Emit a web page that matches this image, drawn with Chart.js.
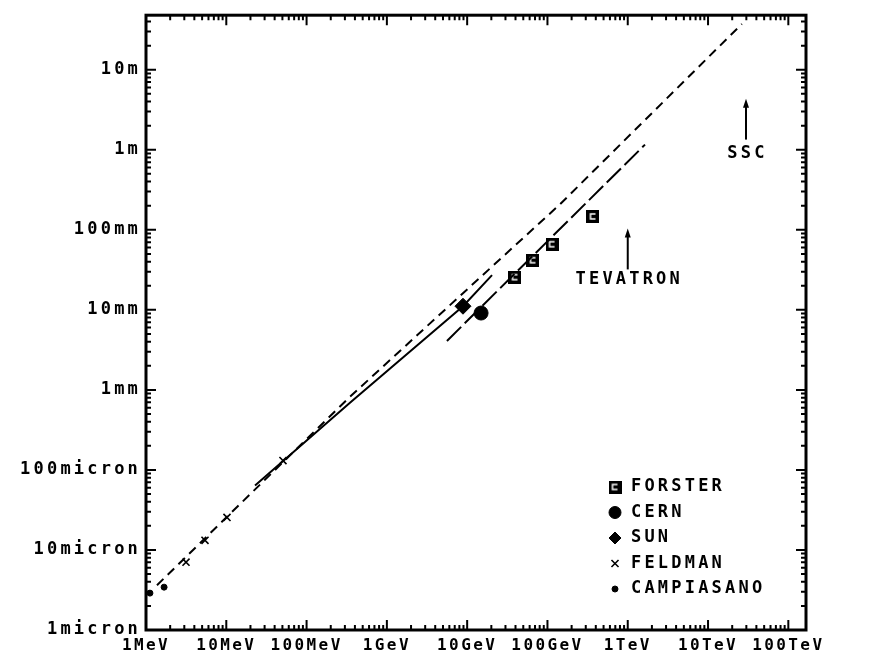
<!DOCTYPE html>
<html>
<head>
<meta charset="utf-8">
<script src="https://cdn.jsdelivr.net/npm/chart.js@4.4.0/dist/chart.umd.min.js"></script>
<style>
  html, body { margin: 0; padding: 0; background: #fff; }
  canvas { display: block; }
</style>
</head>
<body>
<canvas id="grafico" width="873" height="658"></canvas>
<script>
// ejes: energia en GeV, longitud en metros
const energiaTicks = [1e-3, 1e-2, 1e-1, 1, 10, 100, 1e3, 1e4, 1e5];
const energiaLabels = ['1MeV', '10MeV', '100MeV', '1GeV', '10GeV', '100GeV', '1TeV', '10TeV', '100TeV'];
const longitudTicks = [1e-6, 1e-5, 1e-4, 1e-3, 1e-2, 1e-1, 1, 10];
const longitudLabels = ['1micron', '10micron', '100micron', '1mm', '10mm', '100mm', '1m', '10m'];

// curvas
const cortaE = [0.00137, 0.347, 143, 26400];
const cortaL = [3.63e-6, 8.2e-4, 0.208, 37.3];
const solidaE = [0.0228, 0.347, 8.87, 20.4];
const solidaL = [6.4e-5, 6.9e-4, 0.0111, 0.0271];
const largaE = [5.6, 1640];
const largaL = [0.00409, 1.16];

// medidas
const forsterE = [39.4, 66, 114, 369];
const forsterL = [0.0256, 0.0417, 0.066, 0.147];
const cernE = [14.9];
const cernL = [0.00912];
const sunE = [8.87];
const sunL = [0.0111];
const feldmanE = [0.00315, 0.00543, 0.0102, 0.0508];
const feldmanL = [7.03e-6, 1.32e-5, 2.55e-5, 1.31e-4];
const campiE = [0.00112, 0.00168];
const campiL = [2.89e-6, 3.43e-6];

// flechas: energia, desde, hasta, texto en
const notas = [
  { texto: 'SSC', e: 29700, desde: 1.34, hasta: 4.34, en: 0.9 },
  { texto: 'TEVATRON', e: 1000, desde: 0.032, hasta: 0.104, en: 0.024 }
];

const fuente = '"DejaVu Sans Mono", monospace';
const pares = (xs, ys) => xs.map((v, i) => ({ x: v, y: ys[i] }));

// cuadrado negro con marca blanca (FORSTER)
const cuadro = document.createElement('canvas');
cuadro.width = 13; cuadro.height = 13;
const cc = cuadro.getContext('2d');
cc.fillStyle = '#000';
cc.fillRect(0, 0, 13, 13);
cc.strokeStyle = '#fff';
cc.lineWidth = 1.5;
cc.beginPath();
cc.moveTo(9, 4); cc.lineTo(4, 4); cc.lineTo(4, 9); cc.lineTo(9, 9);
cc.stroke();

const linea = (label, xs, ys, dash) => ({
  label, data: pares(xs, ys), showLine: true, borderColor: '#000', borderWidth: 2,
  borderDash: dash, pointRadius: 0, tension: 0, fill: false
});
const puntos = (label, xs, ys, estilo, radio, borde) => ({
  label, data: pares(xs, ys), showLine: false, pointStyle: estilo, pointRadius: radio,
  backgroundColor: '#000', borderColor: '#000', borderWidth: borde, enLeyenda: true
});

// letras espaciadas como en el trazador; el eje x algo mas junto
const espaciado = {
  id: 'espaciado',
  beforeLayout(c) { c.ctx.letterSpacing = '3.2px'; },
  beforeDraw(c) {
    c.ctx.letterSpacing = '3.2px';
    const s = c.scales.x;
    if (!s._envuelto) {
      const f = s.drawLabels;
      s.drawLabels = function (a) {
        this.ctx.letterSpacing = '2.4px';
        f.call(this, a);
        this.ctx.letterSpacing = '3.2px';
      };
      s._envuelto = true;
    }
  }
};

const marco = {
  id: 'marco',
  afterDraw(chart) {
    const { ctx, chartArea: a, scales: { x, y } } = chart;
    ctx.save();
    ctx.strokeStyle = '#000';
    ctx.lineWidth = 2;
    const marcas = (scale, fn) => {
      for (let k = Math.floor(Math.log10(scale.min)); k <= Math.ceil(Math.log10(scale.max)); k++) {
        for (let m = 1; m <= 9; m++) {
          const v = m * Math.pow(10, k);
          if (v < scale.min * 0.999 || v > scale.max * 1.001) continue;
          fn(scale.getPixelForValue(v), m === 1 ? 10 : 5);
        }
      }
    };
    ctx.beginPath();
    marcas(x, (px, l) => {
      ctx.moveTo(px, a.bottom); ctx.lineTo(px, a.bottom - l);
      ctx.moveTo(px, a.top); ctx.lineTo(px, a.top + l);
    });
    marcas(y, (py, l) => {
      ctx.moveTo(a.left, py); ctx.lineTo(a.left + l, py);
      ctx.moveTo(a.right, py); ctx.lineTo(a.right - l, py);
    });
    ctx.stroke();
    ctx.lineWidth = 3;
    ctx.strokeRect(a.left, a.top, a.right - a.left, a.bottom - a.top);

    // flechas y textos
    ctx.font = 'bold 17px ' + fuente;
    ctx.fillStyle = '#000';
    ctx.textAlign = 'center';
    ctx.textBaseline = 'middle';
    ctx.lineWidth = 2;
    notas.forEach(n => {
      const px = x.getPixelForValue(n.e);
      const y0 = y.getPixelForValue(n.desde);
      const y1 = y.getPixelForValue(n.hasta);
      ctx.beginPath();
      ctx.moveTo(px, y0); ctx.lineTo(px, y1 + 6);
      ctx.stroke();
      ctx.beginPath();
      ctx.moveTo(px, y1); ctx.lineTo(px - 3, y1 + 9); ctx.lineTo(px + 3, y1 + 9);
      ctx.closePath();
      ctx.fill();
      ctx.fillText(n.texto, px + 1.5, y.getPixelForValue(n.en));
    });

    // leyenda
    ctx.textAlign = 'left';
    const dibujar = Chart.helpers && Chart.helpers.drawPoint;
    chart.data.datasets.filter(d => d.enLeyenda).forEach((d, i) => {
      const yy = 487 + i * 25.5;
      ctx.lineWidth = d.borderWidth;
      if (dibujar) {
        dibujar(ctx, { pointStyle: d.pointStyle, radius: d.radioLeyenda || d.pointRadius, rotation: 0, borderWidth: d.borderWidth }, 615, yy);
      }
      ctx.fillText(d.label, 631, yy);
    });
    ctx.restore();
  }
};

const ds = [
  linea('corta', cortaE, cortaL, [9, 6]),
  linea('solida', solidaE, solidaL, []),
  linea('larga', largaE, largaL, [20, 5]),
  puntos('FORSTER', forsterE, forsterL, cuadro, 7, 1),
  Object.assign(puntos('CERN', cernE, cernL, 'circle', 7, 1), { radioLeyenda: 6 }),
  Object.assign(puntos('SUN', sunE, sunL, 'rectRot', 8, 1), { radioLeyenda: 6 }),
  puntos('FELDMAN', feldmanE, feldmanL, 'crossRot', 5, 1.6),
  puntos('CAMPIASANO', campiE, campiL, 'circle', 3, 1)
];

new Chart(document.getElementById('grafico').getContext('2d'), {
  type: 'scatter',
  data: { datasets: ds },
  options: {
    responsive: false,
    animation: false,
    devicePixelRatio: 1,
    layout: { padding: { left: 0, top: 13, right: 67, bottom: 0 } },
    plugins: { legend: { display: false }, tooltip: { enabled: false } },
    scales: {
      x: {
        type: 'logarithmic',
        min: 1e-3,
        max: 1.66e5,
        grid: { display: false, drawTicks: false },
        border: { display: false },
        afterBuildTicks: s => { s.ticks = energiaTicks.map(v => ({ value: v })); },
        afterFit: s => { s.height = 28; },
        ticks: {
          autoSkip: false,
          maxRotation: 0,
          padding: 6,
          color: '#000',
          font: { family: fuente, size: 16, weight: 'bold' },
          callback: (v) => energiaLabels[energiaTicks.findIndex(t => Math.abs(t - v) / t < 1e-6)] || ''
        }
      },
      y: {
        type: 'logarithmic',
        min: 1e-6,
        max: 48,
        grid: { display: false, drawTicks: false },
        border: { display: false },
        afterBuildTicks: s => { s.ticks = longitudTicks.map(v => ({ value: v })); },
        afterFit: s => { s.width = 146; },
        ticks: {
          autoSkip: false,
          padding: 5,
          color: '#000',
          font: { family: fuente, size: 17, weight: 'bold' },
          callback: (v) => longitudLabels[longitudTicks.findIndex(t => Math.abs(t - v) / t < 1e-6)] || ''
        }
      }
    }
  },
  plugins: [espaciado, marco]
});
</script>
</body>
</html>
